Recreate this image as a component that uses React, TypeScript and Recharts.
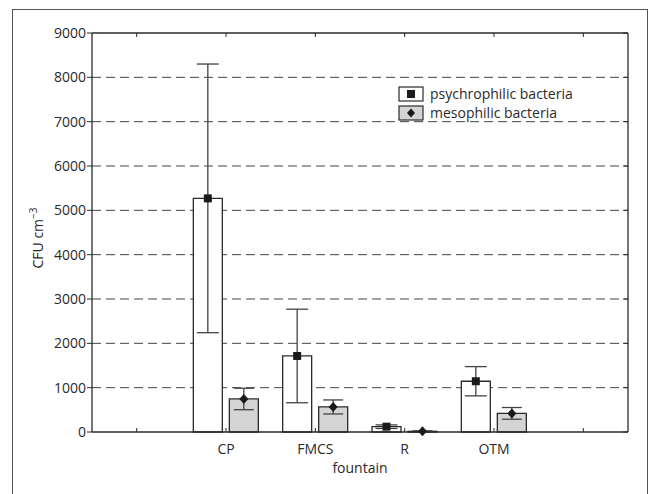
import React from "react";
import {
  BarChart,
  Bar,
  XAxis,
  YAxis,
  CartesianGrid,
  ErrorBar,
  LabelList,
  Legend,
} from "recharts";

// fountain sites (empty slots at both ends, as in the original figure)
const fountains = ["", "CP", "FMCS", "R", "OTM", " "];
const psychrophilic = [null, 5270, 1715, 120, 1145, null];
const psychrophilicErr = [null, 3030, 1055, 40, 330, null];
const mesophilic = [null, 745, 565, 15, 420, null];
const mesophilicErr = [null, 242, 158, 12, 132, null];
const yTicks = [0, 1000, 2000, 3000, 4000, 5000, 6000, 7000, 8000, 9000];

const INK = "#2a2a2a";
const GRAY_FILL = "#d4d4d4";

const data = fountains.map((name, i) => ({
  name,
  psy: psychrophilic[i],
  psyErr: psychrophilicErr[i],
  meso: mesophilic[i],
  mesoErr: mesophilicErr[i],
}));

const SquareMark = (props: any) => {
  const { x, y, width, value } = props;
  if (value == null) return null;
  const cx = x + width / 2;
  return <rect x={cx - 4} y={y - 4} width={8} height={8} fill="#1a1a1a" />;
};

const DiamondMark = (props: any) => {
  const { x, y, width, value } = props;
  if (value == null) return null;
  const cx = x + width / 2;
  return (
    <polygon
      points={`${cx},${y - 5} ${cx + 4.5},${y} ${cx},${y + 5} ${cx - 4.5},${y}`}
      fill="#1a1a1a"
    />
  );
};

const YLabel = () => (
  <text
    x={43}
    y={238}
    transform="rotate(-90, 43, 238)"
    textAnchor="middle"
    fill={INK}
    fontSize={14}
  >
    CFU cm
    <tspan dy={-6} fontSize={10}>
      −3
    </tspan>
  </text>
);

const LegendBox = () => (
  <div style={{ fontSize: 14, color: INK, lineHeight: "19px" }}>
    <div style={{ display: "flex", alignItems: "center", height: 19 }}>
      <svg width={26} height={16} style={{ marginRight: 6 }}>
        <rect x={1} y={1} width={24} height={14} fill="#fff" stroke={INK} strokeWidth={1.2} />
        <rect x={9} y={4} width={8} height={8} fill="#1a1a1a" />
      </svg>
      <span>psychrophilic bacteria</span>
    </div>
    <div style={{ display: "flex", alignItems: "center", height: 19 }}>
      <svg width={26} height={16} style={{ marginRight: 6 }}>
        <rect x={1} y={1} width={24} height={14} fill={GRAY_FILL} stroke={INK} strokeWidth={1.2} />
        <polygon points="13,3.5 17,8 13,12.5 9,8" fill="#1a1a1a" />
      </svg>
      <span>mesophilic bacteria</span>
    </div>
  </div>
);

export default function App() {
  return (
    <div
      style={{
        position: "absolute",
        left: 0,
        top: 0,
        width: 650,
        height: 494,
        overflow: "hidden",
        background: "#fff",
        fontFamily: "'Open Sans', sans-serif",
      }}
    >
      <div
        style={{
          position: "absolute",
          left: 12,
          top: 9,
          width: 634,
          height: 520,
          border: "1px solid #555",
        }}
      />
      <BarChart
        width={650}
        height={494}
        data={data}
        margin={{ top: 32, right: 21, bottom: 0, left: 0 }}
        barSize={29}
        barGap={7}
        style={{ position: "absolute", left: 0, top: 0 }}
      >
        <CartesianGrid
          vertical={false}
          stroke="#444"
          strokeDasharray="9 5"
          horizontalValues={[1000, 2000, 3000, 4000, 5000, 6000, 7000, 8000]}
        />
        <XAxis
          dataKey="name"
          height={62}
          interval={0}
          tickSize={-4}
          tickMargin={16}
          tick={{ fill: INK, fontSize: 14 }}
          tickLine={{ stroke: INK }}
          axisLine={{ stroke: INK, strokeWidth: 1.3 }}
          label={{
            value: "fountain",
            position: "insideBottom",
            offset: 21,
            fill: INK,
            fontSize: 14,
          }}
        />
        <XAxis
          xAxisId="top"
          orientation="top"
          dataKey="name"
          height={1}
          interval={0}
          tickSize={-4}
          tickFormatter={() => ""}
          tickLine={{ stroke: INK }}
          axisLine={{ stroke: INK, strokeWidth: 1.3 }}
        />
        <YAxis
          width={92}
          domain={[0, 9000]}
          ticks={yTicks}
          interval={0}
          tickSize={5}
          tickMargin={1}
          tick={{ fill: INK, fontSize: 14 }}
          tickLine={{ stroke: INK }}
          axisLine={{ stroke: INK, strokeWidth: 1.3 }}
          label={<YLabel />}
        />
        <YAxis
          yAxisId="right"
          orientation="right"
          width={1}
          domain={[0, 9000]}
          allowDataOverflow
          ticks={yTicks}
          interval={0}
          tickSize={-5}
          tickFormatter={() => ""}
          tickLine={{ stroke: INK }}
          axisLine={{ stroke: INK, strokeWidth: 1.3 }}
        />
        <Legend
          layout="horizontal"
          verticalAlign="middle"
          align="center"
          wrapperStyle={{ left: 398, top: 84, width: 200 }}
          content={() => <LegendBox />}
        />
        <Bar
          dataKey="psy"
          name="psychrophilic bacteria"
          fill="#ffffff"
          stroke={INK}
          strokeWidth={1.3}
          isAnimationActive={false}
        >
          <ErrorBar dataKey="psyErr" width={11} stroke="#444" strokeWidth={1.3} />
          <LabelList dataKey="psy" content={<SquareMark />} />
        </Bar>
        <Bar
          dataKey="meso"
          name="mesophilic bacteria"
          fill={GRAY_FILL}
          stroke={INK}
          strokeWidth={1.3}
          isAnimationActive={false}
        >
          <ErrorBar dataKey="mesoErr" width={10} stroke="#444" strokeWidth={1.3} />
          <LabelList dataKey="meso" content={<DiamondMark />} />
        </Bar>
      </BarChart>
    </div>
  );
}
